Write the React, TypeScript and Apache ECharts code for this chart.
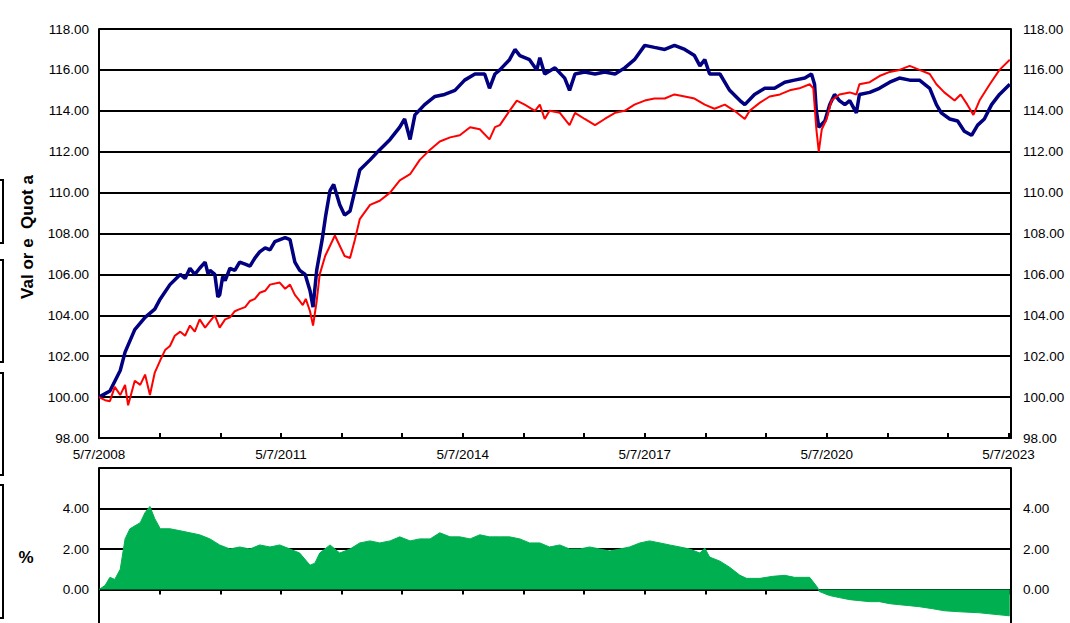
import React, { useEffect, useRef } from "react";
import * as echarts from "echarts";

// t = years since 5/7/2008
const blueData: [number, number][] = [
  [0, 100.0], [0.18, 100.3], [0.35, 101.3], [0.43, 102.2], [0.59, 103.3], [0.76, 103.9], [0.92, 104.3],
  [1.01, 104.8], [1.17, 105.5], [1.34, 106.0], [1.42, 105.8], [1.5, 106.3], [1.58, 106.0], [1.66, 106.3],
  [1.75, 106.6], [1.8, 106.0], [1.83, 106.2], [1.91, 106.0], [1.96, 104.9], [1.99, 105.0], [2.04, 105.9],
  [2.08, 105.7], [2.16, 106.3], [2.24, 106.2], [2.32, 106.6], [2.41, 106.5], [2.49, 106.4], [2.57, 106.8],
  [2.65, 107.1], [2.74, 107.3], [2.82, 107.2], [2.9, 107.6], [3.07, 107.8], [3.15, 107.7], [3.23, 106.6],
  [3.31, 106.2], [3.4, 106.0], [3.48, 105.2], [3.53, 104.4], [3.59, 106.2], [3.68, 107.7], [3.74, 108.9],
  [3.81, 110.1], [3.87, 110.4], [3.97, 109.4], [4.05, 108.9], [4.14, 109.1], [4.22, 110.1], [4.3, 111.1],
  [4.47, 111.6], [4.63, 112.1], [4.8, 112.6], [4.96, 113.2], [5.04, 113.6], [5.13, 112.6], [5.21, 113.8],
  [5.37, 114.3], [5.54, 114.7], [5.7, 114.8], [5.87, 115.0], [6.03, 115.5], [6.2, 115.8], [6.36, 115.8],
  [6.44, 115.1], [6.53, 115.8], [6.61, 116.0], [6.77, 116.5], [6.86, 117.0], [6.94, 116.7], [7.1, 116.5],
  [7.22, 116.0], [7.27, 116.6], [7.35, 115.8], [7.52, 116.1], [7.68, 115.6], [7.76, 115.0], [7.85, 115.8],
  [8.01, 115.9], [8.18, 115.8], [8.34, 115.9], [8.51, 115.8], [8.67, 116.1], [8.83, 116.5], [9.0, 117.2],
  [9.16, 117.1], [9.33, 117.0], [9.49, 117.2], [9.66, 117.0], [9.82, 116.7], [9.91, 116.2], [9.99, 116.5],
  [10.07, 115.8], [10.24, 115.8], [10.4, 115.0], [10.57, 114.5], [10.65, 114.3], [10.81, 114.8],
  [10.98, 115.1], [11.14, 115.1], [11.31, 115.4], [11.47, 115.5], [11.64, 115.6], [11.75, 115.8],
  [11.8, 115.3], [11.83, 114.0], [11.87, 113.2], [11.97, 113.5], [12.05, 114.3], [12.13, 114.8],
  [12.21, 114.5], [12.3, 114.3], [12.38, 114.5], [12.49, 113.9], [12.54, 114.8], [12.71, 114.9],
  [12.87, 115.1], [13.04, 115.4], [13.2, 115.6], [13.37, 115.5], [13.53, 115.5], [13.7, 115.1],
  [13.81, 114.3], [13.89, 113.9], [14.03, 113.6], [14.16, 113.5], [14.27, 113.0], [14.39, 112.8],
  [14.49, 113.3], [14.6, 113.6], [14.72, 114.3], [14.85, 114.8], [15.02, 115.3],
];

const redData: [number, number][] = [
  [0, 100.0], [0.1, 99.85], [0.18, 99.8], [0.26, 100.5], [0.35, 100.1], [0.43, 100.6], [0.48, 99.6],
  [0.59, 100.8], [0.68, 100.6], [0.76, 101.1], [0.84, 100.1], [0.92, 101.2], [1.01, 101.8], [1.09, 102.3],
  [1.17, 102.5], [1.25, 103.0], [1.34, 103.2], [1.42, 103.0], [1.5, 103.5], [1.58, 103.2], [1.66, 103.8],
  [1.75, 103.4], [1.83, 103.7], [1.91, 104.0], [1.99, 103.4], [2.08, 103.8], [2.16, 103.9], [2.24, 104.2],
  [2.32, 104.3], [2.41, 104.4], [2.49, 104.7], [2.57, 104.8], [2.65, 105.1], [2.74, 105.2], [2.82, 105.5],
  [2.98, 105.6], [3.07, 105.3], [3.15, 105.5], [3.23, 105.0], [3.31, 104.7], [3.36, 104.5], [3.41, 104.8],
  [3.48, 104.2], [3.53, 103.5], [3.59, 104.7], [3.64, 106.0], [3.73, 106.9], [3.81, 107.4], [3.89, 107.9],
  [3.97, 107.4], [4.05, 106.9], [4.14, 106.8], [4.22, 107.7], [4.3, 108.7], [4.47, 109.4], [4.63, 109.6],
  [4.8, 110.0], [4.96, 110.6], [5.13, 110.9], [5.29, 111.6], [5.46, 112.1], [5.62, 112.5], [5.79, 112.7],
  [5.95, 112.8], [6.12, 113.2], [6.28, 113.1], [6.44, 112.6], [6.53, 113.2], [6.61, 113.3], [6.77, 114.0],
  [6.89, 114.5], [7.02, 114.3], [7.19, 114.0], [7.27, 114.3], [7.35, 113.6], [7.43, 114.0], [7.6, 113.9],
  [7.76, 113.3], [7.85, 113.9], [8.01, 113.6], [8.18, 113.3], [8.34, 113.6], [8.51, 113.9], [8.67, 114.0],
  [8.83, 114.3], [9.0, 114.5], [9.16, 114.6], [9.33, 114.6], [9.49, 114.8], [9.66, 114.7], [9.82, 114.6],
  [9.99, 114.3], [10.15, 114.1], [10.32, 114.3], [10.48, 114.0], [10.65, 113.6], [10.73, 114.0],
  [10.9, 114.4], [11.06, 114.7], [11.23, 114.8], [11.39, 115.0], [11.55, 115.1], [11.72, 115.3],
  [11.78, 115.1], [11.83, 113.1], [11.87, 112.0], [11.92, 113.1], [12.0, 113.6], [12.08, 114.5],
  [12.21, 114.8], [12.38, 114.9], [12.49, 114.8], [12.54, 115.3], [12.71, 115.4], [12.87, 115.7],
  [13.04, 115.9], [13.2, 116.0], [13.37, 116.2], [13.53, 116.0], [13.7, 115.8], [13.81, 115.3],
  [13.94, 114.9], [14.11, 114.5], [14.21, 114.8], [14.32, 114.3], [14.42, 113.8], [14.52, 114.5],
  [14.69, 115.3], [14.85, 116.0], [15.02, 116.5],
];

const diffData: [number, number][] = [
  [0, 0], [0.1, 0.2], [0.18, 0.6], [0.26, 0.5], [0.35, 1.0], [0.43, 2.5], [0.51, 3.0], [0.68, 3.3],
  [0.76, 3.8], [0.84, 4.1], [0.92, 3.5], [1.01, 3.0], [1.17, 3.0], [1.34, 2.9], [1.5, 2.8], [1.66, 2.7],
  [1.83, 2.5], [1.99, 2.2], [2.16, 2.0], [2.32, 2.1], [2.49, 2.0], [2.65, 2.2], [2.82, 2.1], [2.98, 2.2],
  [3.15, 2.0], [3.31, 1.8], [3.48, 1.2], [3.56, 1.3], [3.64, 1.8], [3.81, 2.2], [3.97, 1.8], [4.14, 2.0],
  [4.3, 2.3], [4.47, 2.4], [4.63, 2.3], [4.8, 2.4], [4.96, 2.6], [5.13, 2.4], [5.29, 2.5], [5.46, 2.5],
  [5.62, 2.8], [5.79, 2.6], [5.95, 2.6], [6.12, 2.5], [6.28, 2.7], [6.44, 2.6], [6.61, 2.6], [6.77, 2.6],
  [6.94, 2.5], [7.1, 2.3], [7.27, 2.3], [7.43, 2.1], [7.6, 2.2], [7.76, 2.0], [7.93, 2.0], [8.09, 2.1],
  [8.26, 2.0], [8.42, 1.9], [8.59, 2.0], [8.75, 2.1], [8.92, 2.3], [9.08, 2.4], [9.25, 2.3], [9.41, 2.2],
  [9.58, 2.1], [9.74, 2.0], [9.91, 1.8], [9.99, 2.05], [10.07, 1.6], [10.24, 1.4], [10.4, 1.1],
  [10.57, 0.7], [10.68, 0.55], [10.9, 0.55], [11.11, 0.65], [11.31, 0.7], [11.47, 0.6], [11.72, 0.6],
  [11.85, 0.1], [11.88, -0.1], [12.05, -0.3], [12.21, -0.4], [12.38, -0.5], [12.54, -0.55], [12.71, -0.6],
  [12.87, -0.6], [13.04, -0.7], [13.2, -0.75], [13.37, -0.8], [13.53, -0.85], [13.75, -0.95],
  [13.94, -1.05], [14.19, -1.1], [14.52, -1.15], [14.85, -1.25], [15.02, -1.3],
];

const yTopTicks = [98, 118, 2];
const yBottomTicks = [-2, 6, 2];
const xLabelYears = [2008, 2011, 2014, 2017, 2020, 2023];
const X_MAX = 15.04;
const FONT = "'Liberation Sans', Arial, sans-serif";

export default function App() {
  const ref = useRef<HTMLDivElement>(null);
  useEffect(() => {
    if (!ref.current) return;
    const chart = echarts.init(ref.current, undefined, { renderer: "svg" });
    const black = "#000";
    const axisLbl = { color: "#000", fontSize: 13.5, fontFamily: FONT };
    const xCommon = {
      type: "value" as const,
      min: 0,
      max: X_MAX,
      interval: 1,
      splitLine: { show: false },
      axisLine: { show: true, lineStyle: { color: black, width: 2 } },
      axisTick: { show: true, inside: true, length: 5, lineStyle: { color: black, width: 2 } },
    };
    const fmtX = (v: number) => {
      const r = Math.round(v);
      if (Math.abs(v - r) > 1e-6) return "";
      const yr = 2008 + r;
      return xLabelYears.includes(yr) ? `5/7/${yr}` : "";
    };
    const yCommon = (rng: number[]) => ({
      type: "value" as const,
      min: rng[0],
      max: rng[1],
      interval: rng[2],
      axisTick: { show: false },
      axisLine: { show: true, lineStyle: { color: black, width: 2 } },
    });
    const fmtBottom = (v: number) => (v >= 0 && v <= 4 ? v.toFixed(2) : "");
    chart.setOption({
      animation: false,
      backgroundColor: "#fff",
      textStyle: { fontFamily: FONT },
      grid: [
        { left: 99, right: 59, top: 29, height: 409 },
        { left: 99, right: 59, top: 468, height: 162 },
      ],
      xAxis: [
        {
          ...xCommon,
          gridIndex: 0,
          position: "bottom",
          axisLabel: { ...axisLbl, margin: 9, formatter: fmtX, showMinLabel: true, showMaxLabel: true },
        },
        {
          ...xCommon,
          gridIndex: 1,
          position: "top",
          axisLabel: { show: false },
        },
      ],
      yAxis: [
        {
          ...yCommon(yTopTicks),
          gridIndex: 0,
          position: "left",
          axisLabel: { ...axisLbl, margin: 10, formatter: (v: number) => v.toFixed(2) },
          splitLine: { show: true, lineStyle: { color: black, width: 2 } },
        },
        {
          ...yCommon(yTopTicks),
          gridIndex: 0,
          position: "right",
          axisLabel: { ...axisLbl, margin: 12, formatter: (v: number) => v.toFixed(2) },
          splitLine: { show: false },
        },
        {
          ...yCommon(yBottomTicks),
          gridIndex: 1,
          position: "left",
          axisLabel: { ...axisLbl, margin: 10, formatter: fmtBottom },
          splitLine: { show: true, lineStyle: { color: black, width: 2 } },
        },
        {
          ...yCommon(yBottomTicks),
          gridIndex: 1,
          position: "right",
          axisLabel: { ...axisLbl, margin: 12, formatter: fmtBottom },
          splitLine: { show: false },
        },
      ],
      series: [
        {
          type: "line",
          xAxisIndex: 0,
          yAxisIndex: 0,
          data: blueData,
          showSymbol: false,
          lineStyle: { color: "#000080", width: 3.5 },
          z: 3,
        },
        {
          type: "line",
          xAxisIndex: 0,
          yAxisIndex: 0,
          data: redData,
          showSymbol: false,
          lineStyle: { color: "#ff0000", width: 2 },
          z: 4,
        },
        {
          type: "line",
          xAxisIndex: 1,
          yAxisIndex: 2,
          data: diffData,
          showSymbol: false,
          lineStyle: { color: "#00b050", width: 1 },
          areaStyle: { color: "#00b050", opacity: 1, origin: 0 },
          z: 1,
        },
      ],
      graphic: [
        { type: "rect", shape: { x: -20, y: 180, width: 23, height: 63 }, style: { fill: "none", stroke: black, lineWidth: 2 } },
        { type: "rect", shape: { x: -20, y: 260, width: 23, height: 102 }, style: { fill: "none", stroke: black, lineWidth: 2 } },
        { type: "rect", shape: { x: -20, y: 373, width: 23, height: 102 }, style: { fill: "none", stroke: black, lineWidth: 2 } },
        { type: "rect", shape: { x: -20, y: 485, width: 23, height: 133 }, style: { fill: "none", stroke: black, lineWidth: 2 } },
        {
          type: "text",
          x: 27,
          y: 237,
          rotation: Math.PI / 2,
          style: {
            text: "Val or e  Quot a",
            fontSize: 17,
            fontWeight: "bold",
            fontFamily: FONT,
            fill: black,
            textAlign: "center",
            textVerticalAlign: "middle",
          },
        },
        {
          type: "text",
          x: 26,
          y: 557,
          style: {
            text: "%",
            fontSize: 17,
            fontWeight: "bold",
            fontFamily: FONT,
            fill: black,
            textAlign: "center",
            textVerticalAlign: "middle",
          },
        },
      ],
    });
    return () => chart.dispose();
  }, []);
  return (
    <div
      ref={ref}
      style={{ position: "fixed", left: 0, top: 0, width: 1070, height: 640, background: "#fff" }}
    />
  );
}
